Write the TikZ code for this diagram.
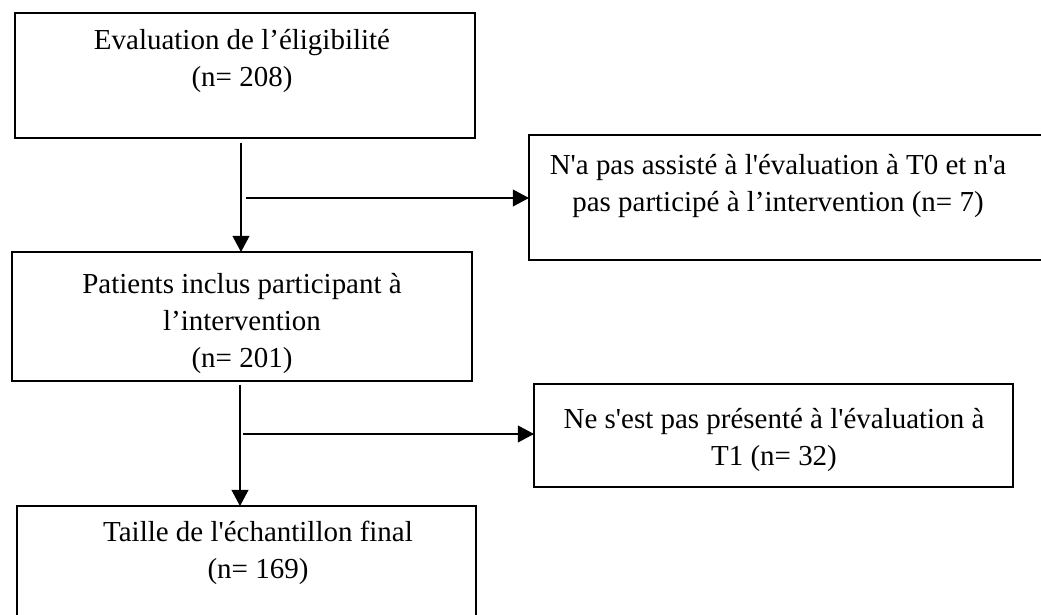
\documentclass[tikz,border=0pt]{standalone}
\usepackage{fontspec}
\setmainfont{Liberation Serif}[Ligatures=TeXOff]
\usetikzlibrary{arrows.meta}

\begin{document}
\begin{tikzpicture}[x=0.025cm, y=-0.025cm]
	\tikzstyle{box}=[rectangle, draw=black, line width=0.9pt, inner sep=0pt, outer sep=0pt]
	\tikzstyle{txt}=[align=center, inner sep=0pt, anchor=north, font=\fontsize{20.6}{26.3}\selectfont]
	\tikzstyle{flow}=[line width=0.8pt, -{Triangle[length=0.4cm, width=0.42cm]}]
	\useasboundingbox (0, 0) rectangle (1041, 615);

	% boxes of the main column
	\draw node[box, minimum width=11.5cm, minimum height=3.125cm] at (245, 75.5) (elig) {};
	\draw node[box, minimum width=11.5cm, minimum height=3.225cm] at (242, 316.5) (incl) {};
	\draw node[box, minimum width=11.475cm, minimum height=3.1cm] at (246.5, 568) (final) {};
	% boxes of the exclusions
	\draw node[box, minimum width=13.025cm, minimum height=3.125cm] at (789.5, 197.5) (absT0) {};
	\draw node[box, minimum width=11.975cm, minimum height=2.575cm] at (773.5, 435.5) (absT1) {};

	% texts
	\draw node[txt] at (242, 29) (eligtxt) {Evaluation de l’éligibilité\\(n= 208)};
	\draw node[txt] at (242, 273) (incltxt) {Patients inclus participant à\\l’intervention\\(n= 201)};
	\draw node[txt] at (258, 521) (finaltxt) {Taille de l'échantillon final\\(n= 169)};
	\draw node[txt] at (778, 154) (absT0txt) {N'a pas assisté à l'évaluation à T0 et n'a\\pas participé à l’intervention (n= 7)};
	\draw node[txt] at (774, 408) (absT1txt) {Ne s'est pas présenté à l'évaluation à\\T1 (n= 32)};

	% free ends of the arrows
	\coordinate (v1) at (241, 143);
	\coordinate (h1) at (246, 198);
	\coordinate (v2) at (240, 385);
	\coordinate (h2) at (243, 434);

	\draw [flow] (v1) -- (v1 |- incl.north);
	\draw [flow] (h1) -- (h1 -| absT0.west);
	\draw [flow] (v2) -- (v2 |- final.north);
	\draw [flow] (h2) -- (h2 -| absT1.west);
\end{tikzpicture}
\end{document}
